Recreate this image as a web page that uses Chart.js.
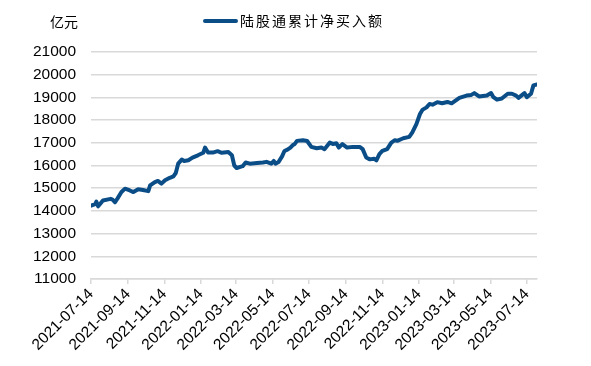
<!DOCTYPE html>
<html>
<head>
<meta charset="utf-8">
<script src="https://cdn.jsdelivr.net/npm/chart.js@4/dist/chart.umd.min.js"></script>
<style>
html,body{margin:0;padding:0;background:#fff;}
#wrap{width:591px;height:366px;position:relative;}
</style>
</head>
<body>
<div id="wrap"><canvas id="c" width="591" height="366"></canvas></div>
<script>
const seriesName = '陆股通累计净买入额';
const unitLabel = '亿元';
const dates = [
 '2021-07-14','2021-07-21','2021-07-23','2021-07-26','2021-08-03','2021-08-16','2021-08-19','2021-08-23','2021-08-27',
 '2021-09-03','2021-09-09','2021-09-17','2021-09-23','2021-10-01','2021-10-09','2021-10-18','2021-10-21','2021-10-29',
 '2021-11-03','2021-11-09','2021-11-15','2021-11-23','2021-11-29','2021-12-03','2021-12-07','2021-12-13','2021-12-17',
 '2021-12-24','2021-12-31','2022-01-09','2022-01-18','2022-01-21','2022-01-26','2022-02-03','2022-02-11','2022-02-18',
 '2022-03-01','2022-03-07','2022-03-11','2022-03-15','2022-03-21','2022-03-25','2022-03-30','2022-04-06','2022-04-18',
 '2022-04-28','2022-05-04','2022-05-12','2022-05-16','2022-05-19','2022-05-24','2022-05-30','2022-06-03','2022-06-08',
 '2022-06-13','2022-06-17','2022-06-20','2022-06-24','2022-07-04','2022-07-11','2022-07-18','2022-07-27','2022-08-04',
 '2022-08-09','2022-08-18','2022-08-23','2022-08-29','2022-09-02','2022-09-08','2022-09-16','2022-09-26','2022-10-07',
 '2022-10-12','2022-10-18','2022-10-24','2022-10-31','2022-11-04','2022-11-09','2022-11-14','2022-11-22','2022-11-29',
 '2022-12-05','2022-12-09','2022-12-19','2022-12-29','2023-01-03','2023-01-10','2023-01-16','2023-01-20','2023-01-27',
 '2023-02-01','2023-02-06','2023-02-14','2023-02-22','2023-03-03','2023-03-10','2023-03-23','2023-04-04','2023-04-12',
 '2023-04-17','2023-04-25','2023-05-08','2023-05-15','2023-05-19','2023-05-25','2023-06-02','2023-06-12','2023-06-19',
 '2023-06-26','2023-06-30','2023-07-10','2023-07-14','2023-07-21','2023-07-25','2023-07-31'
];
const netBuy = [
 14230,14300,14410,14200,14460,14530,14500,14380,14530,
 14830,14980,14900,14830,14950,14920,14870,15120,15270,
 15320,15200,15350,15460,15520,15670,16080,16260,16200,
 16230,16350,16450,16560,16790,16570,16570,16630,16560,
 16590,16450,16000,15890,15940,15970,16130,16080,16110,
 16130,16160,16080,16200,16080,16150,16400,16640,16700,
 16790,16900,16940,17085,17115,17080,16820,16760,16790,
 16720,17010,16950,16980,16790,16940,16790,16820,16820,
 16720,16350,16270,16300,16230,16500,16640,16720,17010,
 17115,17085,17200,17260,17450,17820,18270,18450,18560,
 18710,18680,18790,18740,18800,18740,18980,19080,19110,
 19190,19040,19080,19190,19010,18900,18950,19160,19160,
 19080,18980,19190,19010,19160,19530,19570
];
const tickLabels = ['2021-07-14','2021-09-14','2021-11-14','2022-01-14','2022-03-14','2022-05-14',
 '2022-07-14','2022-09-14','2022-11-14','2023-01-14','2023-03-14','2023-05-14','2023-07-14'];
const yMin = 11000, yMax = 21000, yStep = 1000;

const dayOf = s => Math.round((Date.parse(s) - Date.parse(dates[0])) / 86400000);
const points = dates.map((d, i) => ({x: dayOf(d), y: netBuy[i]}));

const headerPlugin = {
  id: 'header',
  afterDraw(chart) {
    const ctx = chart.ctx;
    const ds = chart.data.datasets[0];
    ctx.save();
    ctx.font = '14px "Noto Sans CJK SC"';
    ctx.fillStyle = '#000';
    ctx.textAlign = 'right';
    ctx.textBaseline = 'middle';
    ctx.fillText(unitLabel, 78, 22);
    ctx.strokeStyle = ds.borderColor;
    ctx.lineWidth = 4;
    ctx.lineCap = 'round';
    ctx.beginPath();
    ctx.moveTo(205, 21);
    ctx.lineTo(236, 21);
    ctx.stroke();
    ctx.textAlign = 'left';
    try { ctx.letterSpacing = '2px'; } catch (e) {}
    ctx.fillText(ds.label, 240, 21);
    ctx.restore();
  }
};

new Chart(document.getElementById('c'), {
  type: 'line',
  data: {
    datasets: [{
      label: seriesName,
      data: points,
      borderColor: '#0b4d87',
      borderWidth: 4,
      pointRadius: 0,
      tension: 0,
      borderJoinStyle: 'round',
      borderCapStyle: 'round',
      fill: false
    }]
  },
  options: {
    responsive: false,
    animation: false,
    layout: {padding: {top: 52, right: 54, bottom: 0, left: 0}},
    plugins: {legend: {display: false}, tooltip: {enabled: false}},
    scales: {
      x: {
        type: 'linear',
        min: 0,
        max: dayOf(dates[dates.length - 1]),
        afterBuildTicks: s => { s.ticks = tickLabels.map(t => ({value: dayOf(t)})); },
        afterFit: s => { s.height = 87; },
        grid: {drawOnChartArea: false, drawTicks: true, tickLength: 5, color: '#d9d9d9', lineWidth: 1.5},
        border: {display: true, color: '#d9d9d9', width: 1.5},
        ticks: {
          autoSkip: false, maxRotation: 45, minRotation: 45, padding: 1,
          color: '#000', font: {family: '"Liberation Sans", Arial', size: 15.5},
          callback: (v, i) => tickLabels[i]
        }
      },
      y: {
        min: yMin, max: yMax,
        afterFit: s => { s.width = 91; },
        grid: {color: '#d9d9d9', lineWidth: 1.5, drawTicks: false},
        border: {display: false},
        ticks: {
          stepSize: yStep, padding: 15, color: '#000',
          font: {family: '"Liberation Sans", Arial', size: 15.5},
          callback: v => String(v)
        }
      }
    }
  },
  plugins: [headerPlugin]
});
</script>
</body>
</html>
